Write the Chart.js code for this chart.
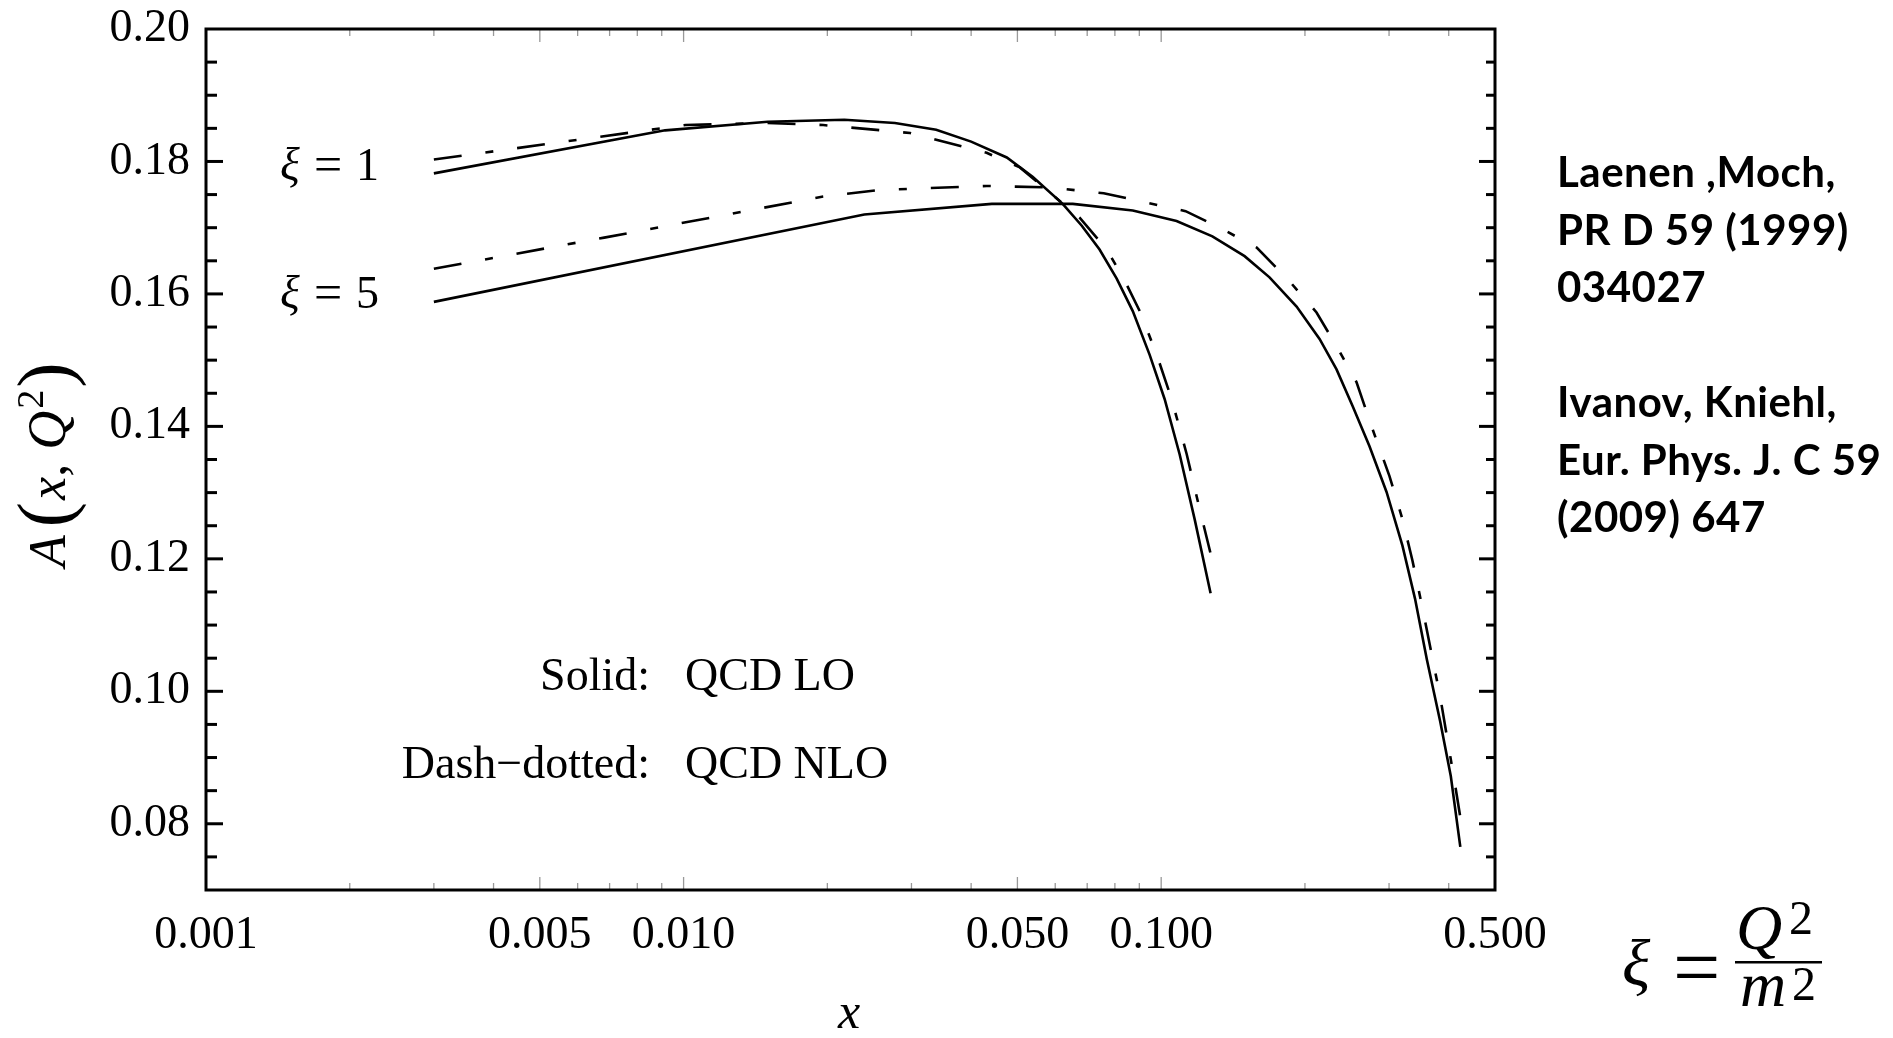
<!DOCTYPE html>
<html>
<head>
<meta charset="utf-8">
<script src="https://cdn.jsdelivr.net/npm/chart.js@4.4.0/dist/chart.umd.min.js"></script>
<style>
  html, body { margin: 0; padding: 0; background: #fff; }
  #wrap { position: relative; width: 1893px; height: 1038px; }
</style>
</head>
<body>
<div id="wrap"><canvas id="chart"></canvas></div>
<script>
// A(x, Q^2) at xi = 1, LO (solid) and NLO (dash-dotted)
const xi1LoX = [0.003, 0.00915, 0.0150, 0.0217, 0.0277, 0.0338, 0.0400, 0.0475, 0.0538, 0.0622, 0.0682, 0.0743, 0.0807, 0.0872, 0.0946, 0.1017, 0.1093, 0.1175, 0.1269];
const xi1LoY = [0.1782, 0.1847, 0.1860, 0.1863, 0.1858, 0.1848, 0.1830, 0.1806, 0.1777, 0.1736, 0.1703, 0.1667, 0.1623, 0.1574, 0.1508, 0.1441, 0.1358, 0.1260, 0.1148];
const xi1NloX = [0.003, 0.0101, 0.0150, 0.0196, 0.0298, 0.0431, 0.0506, 0.0675, 0.0769, 0.0835, 0.0902, 0.0979, 0.1052, 0.1131, 0.1204, 0.1269];
const xi1NloY = [0.1803, 0.1855, 0.1858, 0.1855, 0.1843, 0.1813, 0.1791, 0.1715, 0.1667, 0.1623, 0.1574, 0.1508, 0.1441, 0.1358, 0.1275, 0.1208];

// same at xi = 5
const xi5LoX = [0.003, 0.0239, 0.0442, 0.0653, 0.0872, 0.1077, 0.128, 0.1495, 0.1686, 0.1921, 0.2146, 0.2329, 0.2515, 0.273, 0.2964, 0.320, 0.340, 0.360, 0.384, 0.404, 0.423];
const xi5LoY = [0.1588, 0.1720, 0.1736, 0.1736, 0.1726, 0.1710, 0.1687, 0.1657, 0.1625, 0.1581, 0.1532, 0.1486, 0.1431, 0.1370, 0.1301, 0.1220, 0.1140, 0.1048, 0.0954, 0.0872, 0.0765];
const xi5NloX = [0.003, 0.00682, 0.0196, 0.0258, 0.0431, 0.0579, 0.0758, 0.1125, 0.1326, 0.1585, 0.1857, 0.2115, 0.2329, 0.2564, 0.2770, 0.3006, 0.320, 0.3357, 0.3524, 0.3843, 0.4131, 0.424];
const xi5NloY = [0.1638, 0.1685, 0.1747, 0.1757, 0.1763, 0.1761, 0.1752, 0.1725, 0.1700, 0.1670, 0.1619, 0.1572, 0.1521, 0.1467, 0.1396, 0.1325, 0.1260, 0.1198, 0.1126, 0.0990, 0.0856, 0.0805];

const xTickValues = [0.001, 0.005, 0.01, 0.05, 0.1, 0.5];
const yTickValues = [0.08, 0.10, 0.12, 0.14, 0.16, 0.18, 0.20];

const refLines = [
  'Laenen ,Moch,',
  'PR D 59 (1999)',
  '034027',
  '',
  'Ivanov, Kniehl,',
  'Eur. Phys. J. C 59',
  '(2009) 647'
];

const serif = '"Liberation Serif", "Times New Roman", serif';
const dashDot = [28, 24, 8, 24];

function pts(xs, ys) {
  return xs.map((x, i) => ({ x: x, y: ys[i] }));
}

function curve(label, xs, ys, dash) {
  return {
    label: label,
    data: pts(xs, ys),
    borderColor: '#000',
    borderWidth: 2.6,
    borderDash: dash || [],
    pointRadius: 0,
    tension: 0,
    fill: false
  };
}

// frame with inward ticks on all four sides
const frameTicks = {
  id: 'frameTicks',
  afterDatasetsDraw(chart) {
    const { ctx, chartArea: a, scales: { x, y } } = chart;
    const seg = (x1, y1, x2, y2) => {
      ctx.beginPath(); ctx.moveTo(x1, y1); ctx.lineTo(x2, y2); ctx.stroke();
    };
    ctx.save();

    ctx.strokeStyle = '#999';
    ctx.lineWidth = 1.3;
    for (let d = 0.001; d < 1; d *= 10) {
      for (let k = 1; k <= 9; k++) {
        const v = k * d;
        if (v <= 0.001 || v >= 0.5) continue;
        const px = x.getPixelForValue(v);
        const len = (k === 1 || k === 5) ? 13 : 7;
        seg(px, a.bottom, px, a.bottom - len);
        seg(px, a.top, px, a.top + len);
      }
    }

    ctx.strokeStyle = '#000';
    ctx.lineWidth = 3;
    for (let i = 1; i < 26; i++) {
      const v = 0.07 + i * 0.005;
      const py = y.getPixelForValue(v);
      const major = yTickValues.some(t => Math.abs(t - v) < 1e-9);
      seg(a.left, py, a.left + (major ? 17 : 11), py);
      seg(a.right, py, a.right - (major ? 16 : 9), py);
    }

    ctx.lineWidth = 3;
    ctx.strokeRect(a.left, a.top, a.right - a.left, a.bottom - a.top);
    ctx.restore();
  }
};

// labels, axis titles and the notes on the right
const annotations = {
  id: 'annotations',
  afterDraw(chart) {
    const ctx = chart.ctx;
    ctx.save();
    ctx.fillStyle = '#000';
    ctx.textBaseline = 'alphabetic';

    // curve labels
    [['1', 180], ['5', 308]].forEach(([n, base]) => {
      ctx.textAlign = 'left';
      ctx.font = 'italic 46px ' + serif;
      ctx.fillText('ξ', 280, base);
      ctx.font = '50px ' + serif;
      ctx.fillText('=', 314, base + 1);
      ctx.font = '46px ' + serif;
      ctx.fillText(n, 356, base);
    });

    // line style key
    ctx.font = '46px ' + serif;
    ctx.textAlign = 'right';
    ctx.fillText('Solid:', 650, 690);
    ctx.fillText('Dash\u2212dotted:', 650, 778);
    ctx.textAlign = 'left';
    ctx.fillText('QCD LO', 685, 690);
    ctx.fillText('QCD NLO', 685, 778);

    // x axis title
    ctx.textAlign = 'center';
    ctx.font = 'italic 50px ' + serif;
    ctx.fillText('x', 849, 1028);

    // y axis title A(x, Q^2), read bottom to top
    ctx.save();
    ctx.translate(65, 567);
    ctx.rotate(-Math.PI / 2);
    ctx.textAlign = 'left';
    let p = 0;
    const put = (txt, font, dy, gap) => {
      ctx.font = font;
      ctx.fillText(txt, p, dy);
      p += ctx.measureText(txt).width + gap;
    };
    put('A', 'italic 52px ' + serif, 0, 8);
    put('(', '76px ' + serif, 5, 2);
    put('x', 'italic 52px ' + serif, 0, 0);
    put(',', '52px ' + serif, 0, 14);
    put('Q', 'italic 54px ' + serif, 0, 2);
    put('2', '38px ' + serif, -22, 2);
    put(')', '76px ' + serif, 5, 0);
    ctx.restore();

    // references
    ctx.textAlign = 'left';
    ctx.font = 'bold 42px Lato, "Open Sans", sans-serif';
    ctx.letterSpacing = '0.5px';
    refLines.forEach((line, i) => {
      if (line) ctx.fillText(line, 1557, 187 + i * 57.5);
    });
    ctx.letterSpacing = '0px';

    // xi = Q^2 / m^2
    ctx.font = 'italic 66px ' + serif;
    ctx.fillText('ξ', 1622, 985);
    ctx.font = '84px ' + serif;
    ctx.fillText('=', 1673, 996);
    ctx.font = 'italic 64px ' + serif;
    ctx.fillText('Q', 1736, 949);
    ctx.fillText('m', 1740, 1006);
    ctx.font = '48px ' + serif;
    ctx.fillText('2', 1789, 934);
    ctx.fillText('2', 1792, 1000);
    ctx.fillRect(1735, 961, 87, 2.5);

    ctx.restore();
  }
};

new Chart(document.getElementById('chart'), {
  type: 'line',
  data: {
    datasets: [
      curve('xi = 1, LO', xi1LoX, xi1LoY),
      curve('xi = 1, NLO', xi1NloX, xi1NloY, dashDot),
      curve('xi = 5, LO', xi5LoX, xi5LoY),
      curve('xi = 5, NLO', xi5NloX, xi5NloY, dashDot)
    ]
  },
  options: {
    responsive: true,
    maintainAspectRatio: false,
    animation: false,
    layout: { padding: { top: 29, right: 398, left: 0, bottom: 0 } },
    plugins: { legend: { display: false }, tooltip: { enabled: false } },
    scales: {
      x: {
        type: 'logarithmic',
        min: 0.001,
        max: 0.5,
        grid: { display: false },
        border: { display: false },
        afterBuildTicks: s => { s.ticks = xTickValues.map(v => ({ value: v })); },
        afterFit: s => { s.height = 148; s.paddingLeft = 0; s.paddingRight = 0; },
        ticks: {
          autoSkip: false,
          maxRotation: 0,
          padding: 10,
          color: '#000',
          font: { family: serif, size: 46 },
          callback: v => Number(v).toFixed(3)
        }
      },
      y: {
        min: 0.07,
        max: 0.20,
        grid: { display: false },
        border: { display: false },
        afterBuildTicks: s => { s.ticks = yTickValues.map(v => ({ value: v })); },
        afterFit: s => { s.width = 206; s.paddingTop = 0; s.paddingBottom = 0; },
        ticks: {
          padding: 8,
          color: '#000',
          font: { family: serif, size: 46 },
          callback: v => Number(v).toFixed(2)
        }
      }
    }
  },
  plugins: [frameTicks, annotations]
});
</script>
</body>
</html>
